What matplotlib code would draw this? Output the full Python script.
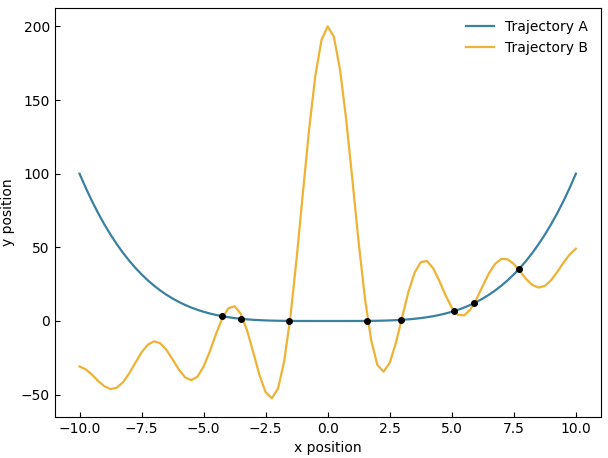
import matplotlib
matplotlib.use('Agg')
import matplotlib.pyplot as plt
import numpy as np

# x grid, step 0.25 from -10 to 10
x_pos = [i * 0.25 for i in range(-40, 41)]

# Trajectory A (symmetric), values for x = 0 .. 10
a_half = [0.0, 0.0, 0.0006, 0.003, 0.01, 0.024, 0.051, 0.094, 0.16, 0.256,
          0.39, 0.572, 0.81, 1.116, 1.50, 1.98, 2.56, 3.26, 4.10, 5.09,
          6.25, 7.60, 9.15, 10.93, 12.96, 15.26, 17.85, 20.76, 24.01, 27.63,
          31.64, 36.08, 40.96, 46.32, 52.20, 58.62, 65.61, 73.21, 81.45, 90.37, 100.0]
traj_a = a_half[::-1] + a_half[1:]

# Trajectory B, x = -10 .. -0.25
b_neg = [-30.9, -32.8, -36.4, -40.7, -44.3, -46.2, -45.3, -41.6, -35.6, -28.3,
         -21.3, -16.1, -13.8, -15.1, -19.5, -26.1, -32.9, -38.2, -40.2, -37.8,
         -30.9, -20.6, -8.8, 1.8, 8.7, 10.0, 4.8, -6.4, -21.3, -36.7,
         -48.4, -52.4, -45.8, -27.0, 3.4, 42.9, 86.9, 130.0, 166.3, 190.8]
# Trajectory B, x = 0 .. 10
b_pos = [200.0, 192.8, 170.3, 136.0, 94.9, 52.9, 15.4, -13.0, -29.8, -34.4,
         -28.4, -14.7, 2.7, 19.6, 32.8, 40.0, 40.7, 35.8, 27.2, 17.4,
         9.1, 4.2, 3.8, 7.8, 15.1, 23.9, 32.5, 38.9, 42.2, 41.9,
         38.7, 33.7, 28.4, 24.4, 22.7, 23.8, 27.7, 33.3, 39.6, 45.2, 49.1]
traj_b = b_neg + b_pos

# crossing points
cross_x = [-4.25, -3.5, -1.55, 1.6, 2.95, 5.1, 5.9, 7.7]
cross_y = [3.3, 1.5, 0.06, 0.07, 0.76, 6.8, 12.1, 35.2]

fig, ax = plt.subplots(figsize=(6.08, 4.58), dpi=100)
ax.plot(x_pos, traj_a, color='#3a80a0', lw=1.6, label='Trajectory A')
ax.plot(x_pos, traj_b, color='#eeb235', lw=1.6, label='Trajectory B')
ax.scatter(cross_x, cross_y, color='black', s=16, zorder=5)

ax.set_xlabel('x position')
ax.set_ylabel('y position')
ax.set_xticks(np.arange(-10, 10.1, 2.5))
ax.set_yticks([-50, 0, 50, 100, 150, 200])
ax.tick_params(direction='in')
ax.legend(loc='upper right', frameon=False)

fig.subplots_adjust(left=0.09, right=0.988, top=0.983, bottom=0.09)
fig.savefig('out.png')
